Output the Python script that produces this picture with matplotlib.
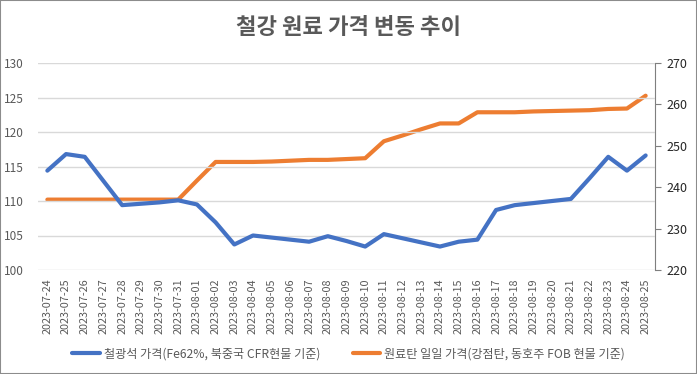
import matplotlib
matplotlib.use('Agg')
import matplotlib.pyplot as plt
import numpy as np
from matplotlib.patches import Rectangle

plt.rcParams['font.family'] = ['Noto Sans CJK KR', 'DejaVu Sans']

dates = ['2023-07-24', '2023-07-25', '2023-07-26', '2023-07-27', '2023-07-28', '2023-07-29',
         '2023-07-30', '2023-07-31', '2023-08-01', '2023-08-02', '2023-08-03', '2023-08-04',
         '2023-08-05', '2023-08-06', '2023-08-07', '2023-08-08', '2023-08-09', '2023-08-10',
         '2023-08-11', '2023-08-12', '2023-08-13', '2023-08-14', '2023-08-15', '2023-08-16',
         '2023-08-17', '2023-08-18', '2023-08-19', '2023-08-20', '2023-08-21', '2023-08-22',
         '2023-08-23', '2023-08-24', '2023-08-25']
iron_ore = [114.4, 116.8, 116.4, 112.9, 109.4, 109.6, 109.8, 110.1, 109.5, 106.9, 103.7,
            105.0, 104.7, 104.4, 104.1, 104.9, 104.2, 103.4, 105.2, 104.6, 104.0, 103.4,
            104.1, 104.4, 108.7, 109.4, 109.7, 110.0, 110.3, 113.3, 116.4, 114.4, 116.6]
coking_coal = [237.0, 237.0, 237.0, 237.0, 237.0, 237.0, 237.0, 237.0, 241.6, 246.1, 246.1,
               246.1, 246.2, 246.4, 246.6, 246.6, 246.8, 247.0, 251.1, 252.5, 254.0, 255.4,
               255.4, 258.1, 258.1, 258.1, 258.3, 258.4, 258.5, 258.6, 258.9, 259.0, 262.1]
iron_label = '철광석 가격(Fe62%, 북중국 CFR현물 기준)'
coal_label = '원료탄 일일 가격(강점탄, 동호주 FOB 현물 기준)'

fig = plt.figure(figsize=(6.97, 3.74), dpi=100)
ax = fig.add_axes([38 / 697, 1 - 270 / 374, (655 - 38) / 697, 207 / 374])
ax2 = ax.twinx()

x = np.arange(len(dates))
l1, = ax.plot(x, iron_ore, color='#4472C4', lw=3, solid_capstyle='round', label=iron_label)
l2, = ax2.plot(x, coking_coal, color='#ED7D31', lw=3, solid_capstyle='round', label=coal_label)
ax.set_zorder(ax2.get_zorder() + 1)
ax.patch.set_visible(False)

ax.set_xlim(-0.5, len(dates) - 0.5)
ax.set_ylim(100, 130)
ax.set_yticks(np.arange(100, 131, 5))
ax2.set_ylim(220, 270)
ax2.set_yticks(np.arange(220, 271, 10))
ax.grid(axis='y', color='#D9D9D9', lw=1)
ax.set_axisbelow(True)

ax.set_xticks(x)
ax.set_xticklabels(dates, rotation=90, fontsize=7.8, color='#595959')
ax.tick_params(axis='x', length=0, pad=6)
ax.tick_params(axis='y', length=0, labelsize=8.5, labelcolor='#595959', pad=10)
ax2.tick_params(axis='y', length=4, color='#7F7F7F', labelsize=9, labelcolor='#262626', pad=4)

for s in ['top', 'left', 'bottom', 'right']:
    ax.spines[s].set_visible(False)
for s in ['top', 'left', 'bottom']:
    ax2.spines[s].set_visible(False)
ax2.spines['right'].set_color('#7F7F7F')

fig.text(0.5, 1 - 28 / 374, '철강 원료 가격 변동 추이', ha='center', va='center',
         fontsize=16, fontweight='bold', color='#595959')

fig.legend(handles=[l1, l2], loc='center', bbox_to_anchor=(0.5, 1 - 354 / 374), ncol=2,
           frameon=False, fontsize=8.7, labelcolor='#595959', handlelength=2.3,
           columnspacing=2.7, handletextpad=0.3)

fig.patches.append(Rectangle((0, 0), 1, 1, transform=fig.transFigure, fill=False,
                             edgecolor='#8C8C8C', lw=1.5))

fig.savefig('out.png', dpi=100)
